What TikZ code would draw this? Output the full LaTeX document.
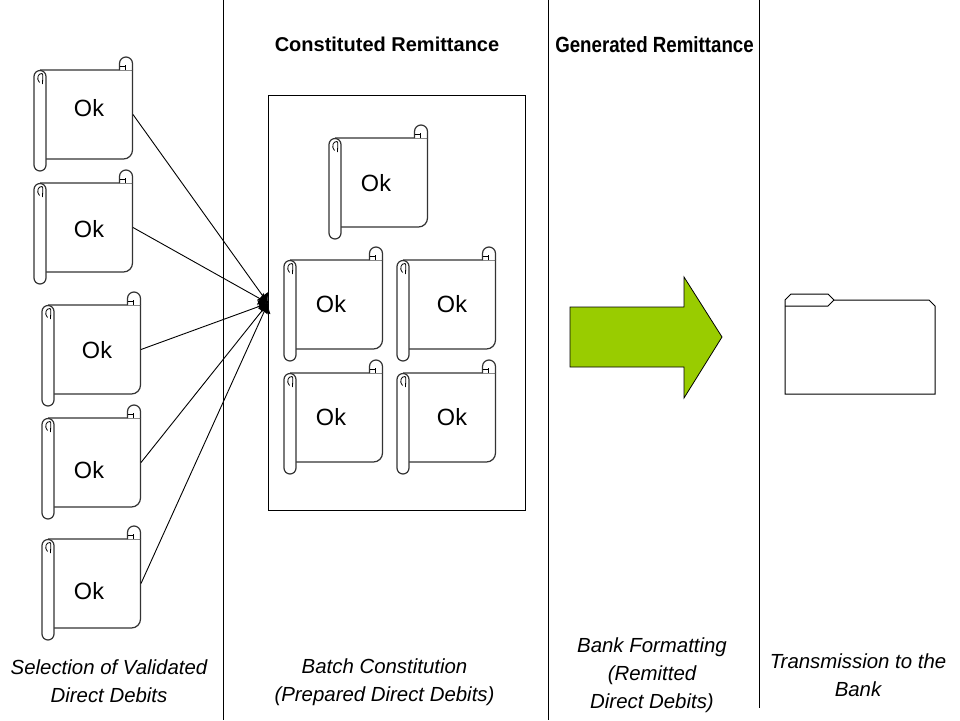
\documentclass[tikz,border=0pt]{standalone}
\usepackage{fontspec}
\setmainfont{Liberation Sans}
\usetikzlibrary{arrows.meta}
\tikzset{
  x=1pt,y=-1pt,
  line width=1pt,
  okfont/.style={font=\fontsize{23.5}{26}\selectfont},
  caption/.style={font=\fontsize{20.4}{28}\selectfont\itshape,align=center,inner sep=0pt},
  heading/.style={font=\fontsize{20}{24}\selectfont\bfseries,inner sep=0pt},
  divider/.style={draw=black,line width=1pt},
  feed/.style={draw=black,line width=0.9pt,-{Latex[length=9pt,width=14pt]}},
  scrollline/.style={draw=black!80,line width=1.2pt,line join=round},
  scrollfine/.style={draw=black,line width=0.8pt},
  scrollbody/.style={draw=none,minimum width=87pt,minimum height=89pt,inner sep=0pt,outer sep=0pt}
}
% #1 name, #2 left x, #3 top y, #4 Ok x, #5 Ok y
\newcommand{\scrollitem}[5]{%
  \begin{scope}[shift={(#2,#3)}]
    % sheet
    \draw[scrollline,fill=white]
      (6,0) -- (98.5,0) -- (98.5,80) arc[start angle=0,end angle=90,radius=9] -- (12,89);
    % left roll
    \draw[scrollline,fill=white] (0,6.5) arc[start angle=180,end angle=360,radius=6] -- (12,95)
      arc[start angle=0,end angle=180,radius=6] -- cycle;
    \draw[scrollfine] (5.5,12.5) .. controls (2,9) and (4,3) .. (8,3.5) .. controls (9.5,4) and (8.5,9) .. (8.5,14);
    % top right curl
    \draw[scrollline,fill=white] (98.5,0) -- (98.5,-6.5) arc[start angle=0,end angle=-180,radius=6.5] -- (85.5,0);
    \draw[scrollfine] (91.5,0) -- (91.5,-5) (85.5,-4) -- (91.5,-4);
    \node[scrollbody] (#1) at (55.5,44.5) {};
  \end{scope}
  \node[okfont,inner sep=0pt] (#1label) at (#4,#5) {Ok};
}
\begin{document}
\begin{tikzpicture}
\useasboundingbox[fill=white] (0,0) rectangle (960,720);
% dividers
\coordinate (d1t) at (223,0); \coordinate (d1b) at (223,720);
\coordinate (d2t) at (548,0); \coordinate (d2b) at (548,720);
\coordinate (d3t) at (759,0); \coordinate (d3b) at (759,708);
\draw[divider] (d1t) -- (d1b);
\draw[divider] (d2t) -- (d2b);
\draw[divider] (d3t) -- (d3b);
% batch box
\node[draw=black,line width=1pt,minimum width=257pt,minimum height=415pt,inner sep=0pt,outer sep=0pt] (batch) at (396.5,303.2) {};
% left scrolls
\scrollitem{s1}{34}{70}{89}{108}
\scrollitem{s2}{34}{183}{89}{229}
\scrollitem{s3}{42}{305}{97}{350}
\scrollitem{s4}{42}{418}{89}{470}
\scrollitem{s5}{42}{539}{89}{591}
% batch scrolls
\scrollitem{b1}{329}{138}{376}{183}
\scrollitem{b2}{284}{260}{331}{304}
\scrollitem{b3}{397}{260}{452}{304}
\scrollitem{b4}{284}{373}{331}{417}
\scrollitem{b5}{397}{373}{452}{417}
% connectors
\foreach \n in {s1,s2,s3,s4,s5} \draw[feed] (\n.east) -- (batch.west);
% big arrow
\draw[draw=black,fill={rgb,255:red,153;green,204;blue,0},line width=0.8pt]
  (570,307) -- (684,307) -- (684,277) -- (722,337) -- (684,398) -- (684,367) -- (570,367) -- cycle;
% folder
\draw[line width=1pt,line join=miter] (785,300) -- (791,294) -- (828,294) -- (834,300) -- (929,300) -- (935,306) -- (935,394) -- (785,394) -- cycle;
\draw[line width=1pt] (785,306) -- (828,306) -- (834,300);
% headings
\node[heading] (h1) at (387,44) {Constituted Remittance};
\node[heading] (h2) at (654.5,45) {\scalebox{0.935}[1.1]{Generated Remittance}};
% captions
\node[caption] (c1) at (109,681.5) {Selection of Validated\\Direct Debits};
\node[caption] (c2) at (384.5,682.5) {Batch Constitution\\(Prepared Direct Debits)};
\node[caption] (c3) at (652,675) {Bank Formatting\\(Remitted\\Direct Debits)};
\node[caption] (c4) at (858,675) {Transmission to the\\Bank};
\end{tikzpicture}
\end{document}
